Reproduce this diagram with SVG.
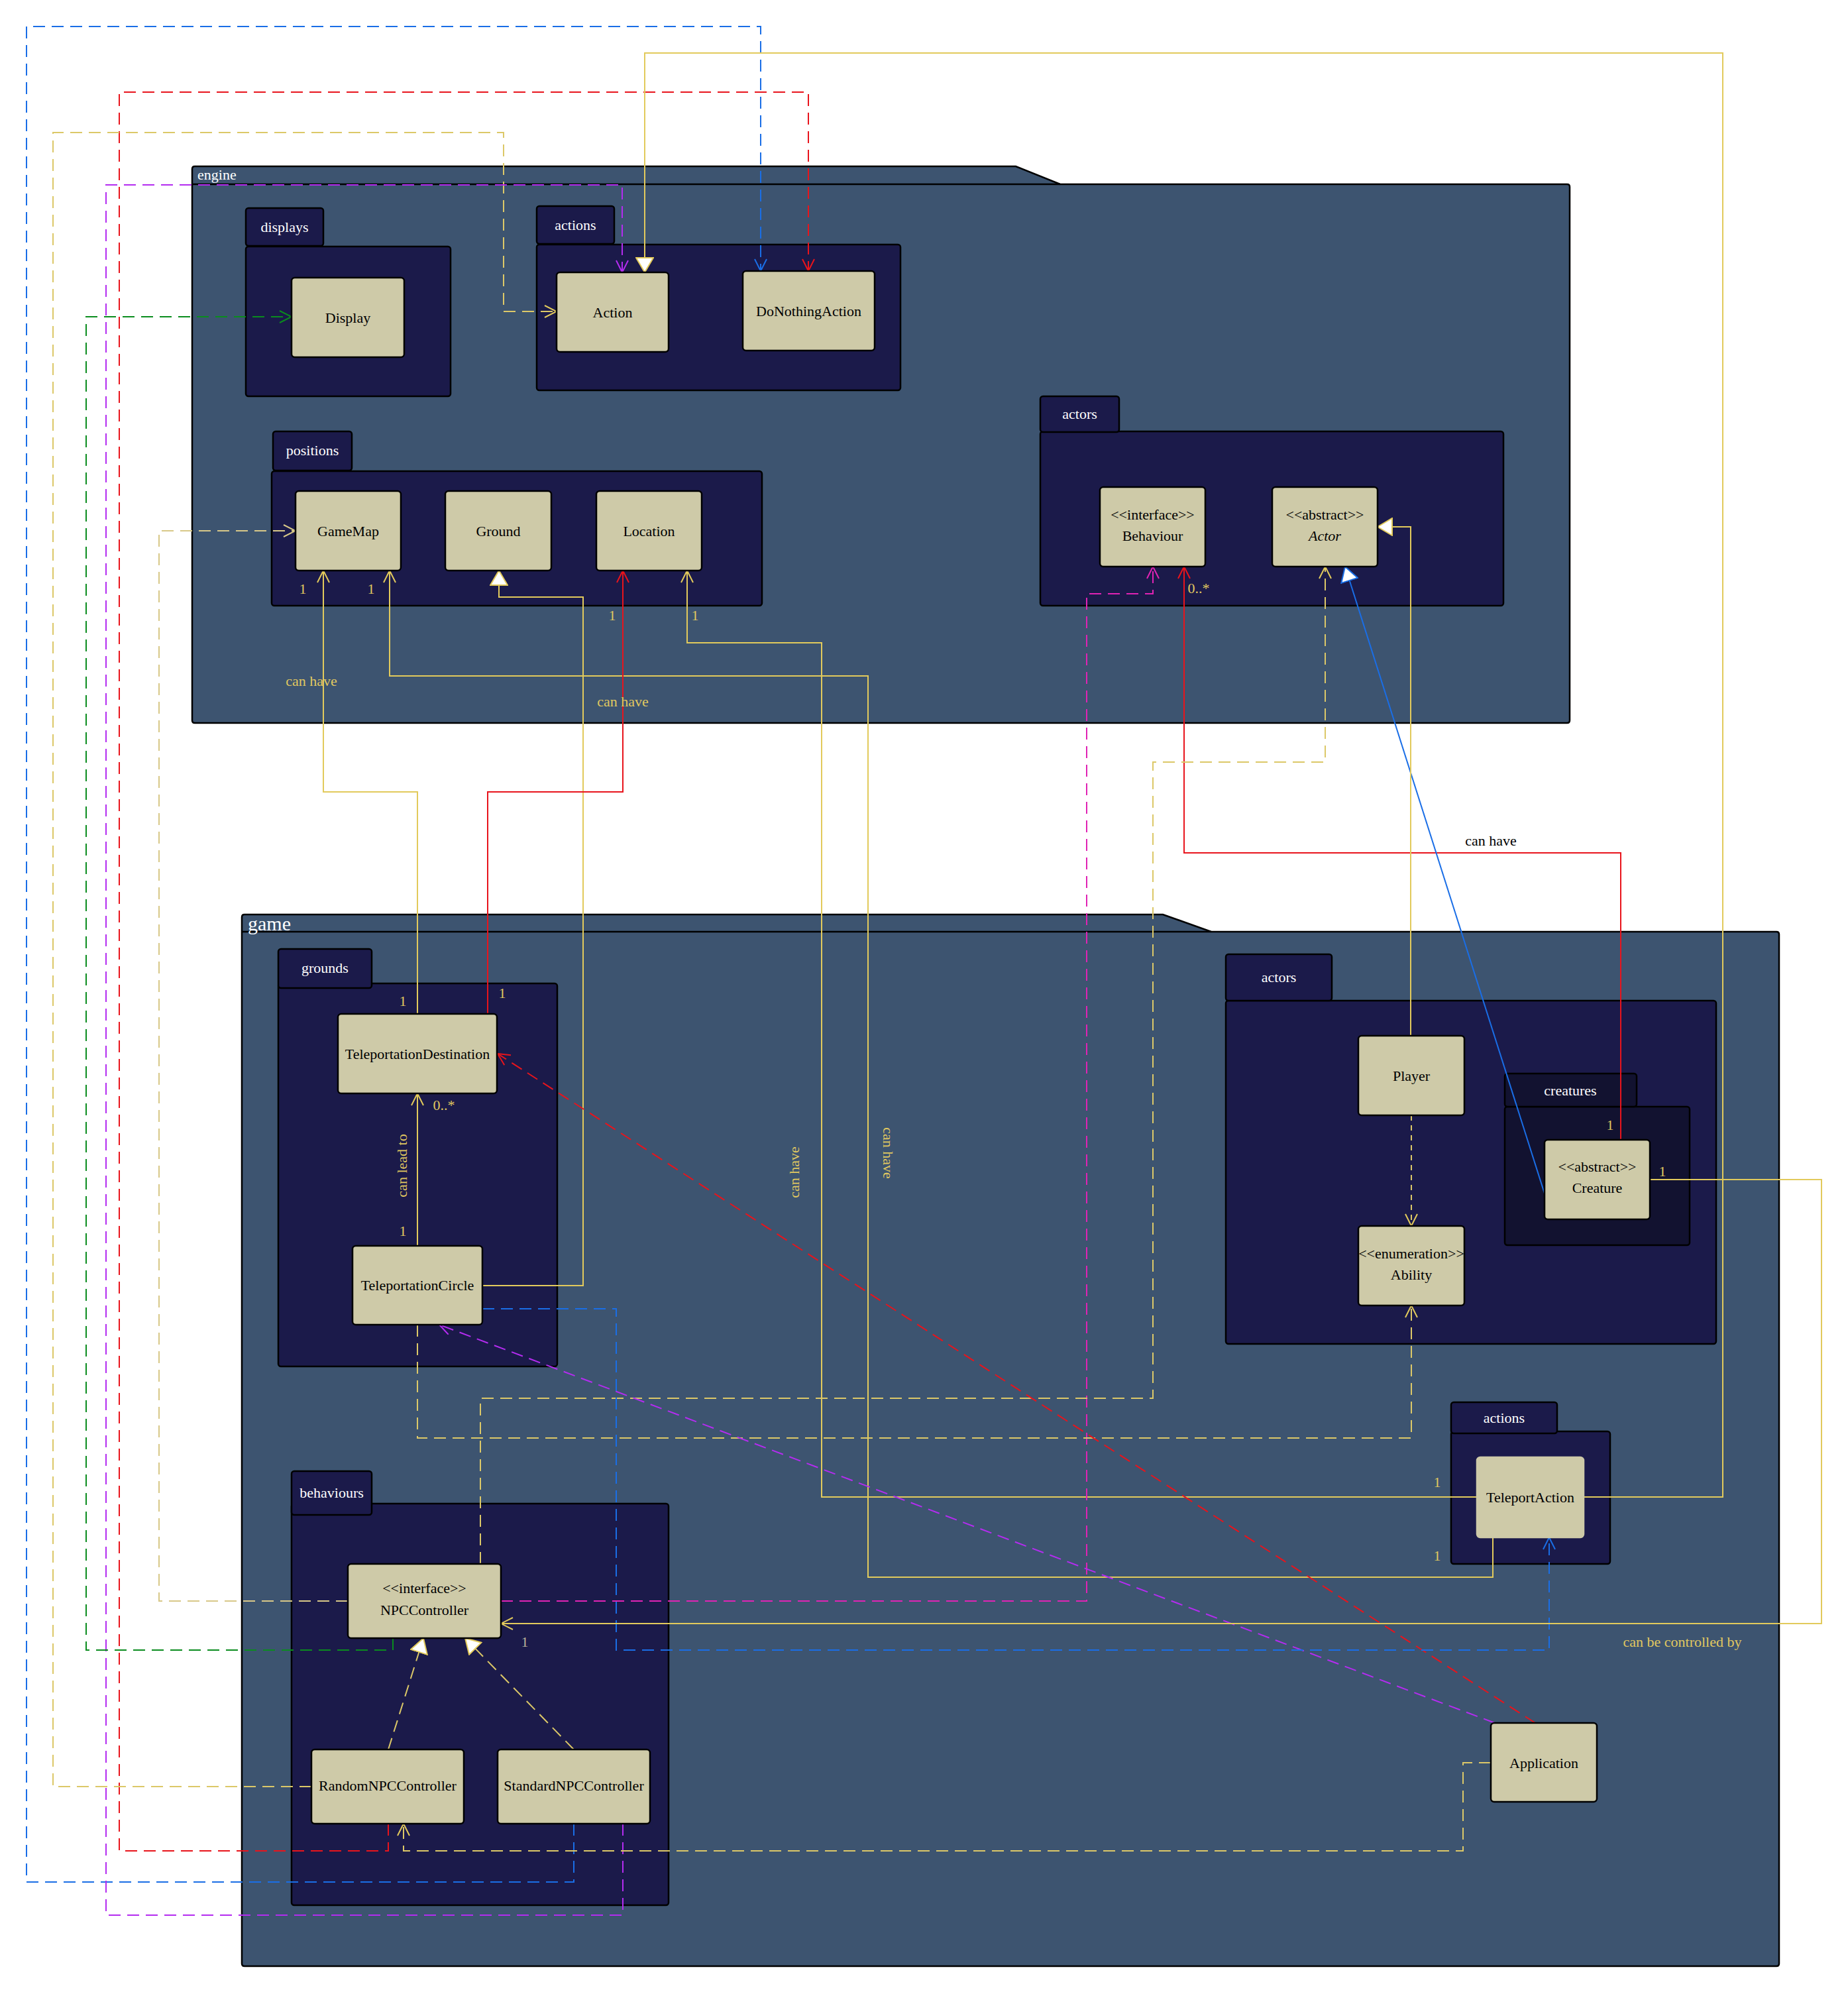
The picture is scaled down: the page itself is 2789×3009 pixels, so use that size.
<svg xmlns="http://www.w3.org/2000/svg" width="2789" height="3009" viewBox="0 0 2789 3009">
<style>
.po{fill:#3d5470;stroke:#000;stroke-width:2.5}
.pk{fill:#1b1a4a;stroke:#000;stroke-width:2.5}
.pd{fill:#121230;stroke:#000;stroke-width:2.5}
.bx{fill:#cecaa8;stroke:#000;stroke-width:2.5}
.t{font-family:"Liberation Serif","Times New Roman",serif;font-size:22px;text-anchor:middle;dominant-baseline:central}
.w{fill:#fff}.k{fill:#000}.y{fill:#e0c860}.g{fill:#b8b49a}
.c{fill:none;stroke-width:2}
.d{stroke-dasharray:18 10}
.yl{stroke:#e2ca5c}.yd{stroke:#dcc868}.ly{stroke:#d8c888}.rd{stroke:#e8141c}.bl{stroke:#1a6ee6}.pu{stroke:#b42cf0}.mg{stroke:#e023b4}.gr{stroke:#0a8c1e}
</style>
<defs>
<marker id="aY" viewBox="0 0 20 20" markerWidth="20" markerHeight="20" refX="19" refY="10" orient="auto" markerUnits="userSpaceOnUse"><path d="M1,1 L19,10 L1,19" fill="none" stroke="#e2ca5c" stroke-width="2"/></marker>
<marker id="aLY" viewBox="0 0 20 20" markerWidth="20" markerHeight="20" refX="19" refY="10" orient="auto" markerUnits="userSpaceOnUse"><path d="M1,1 L19,10 L1,19" fill="none" stroke="#d8c888" stroke-width="2"/></marker>
<marker id="aR" viewBox="0 0 20 20" markerWidth="20" markerHeight="20" refX="19" refY="10" orient="auto" markerUnits="userSpaceOnUse"><path d="M1,1 L19,10 L1,19" fill="none" stroke="#e8141c" stroke-width="2"/></marker>
<marker id="aB" viewBox="0 0 20 20" markerWidth="20" markerHeight="20" refX="19" refY="10" orient="auto" markerUnits="userSpaceOnUse"><path d="M1,1 L19,10 L1,19" fill="none" stroke="#1a6ee6" stroke-width="2"/></marker>
<marker id="aP" viewBox="0 0 20 20" markerWidth="20" markerHeight="20" refX="19" refY="10" orient="auto" markerUnits="userSpaceOnUse"><path d="M1,1 L19,10 L1,19" fill="none" stroke="#b42cf0" stroke-width="2"/></marker>
<marker id="aM" viewBox="0 0 20 20" markerWidth="20" markerHeight="20" refX="19" refY="10" orient="auto" markerUnits="userSpaceOnUse"><path d="M1,1 L19,10 L1,19" fill="none" stroke="#e023b4" stroke-width="2"/></marker>
<marker id="aG" viewBox="0 0 20 20" markerWidth="20" markerHeight="20" refX="19" refY="10" orient="auto" markerUnits="userSpaceOnUse"><path d="M1,1 L19,10 L1,19" fill="none" stroke="#0a8c1e" stroke-width="2"/></marker>
<marker id="tY" viewBox="0 0 24 28" markerWidth="24" markerHeight="28" refX="23" refY="14" orient="auto" markerUnits="userSpaceOnUse"><path d="M1,1 L23,14 L1,27 Z" fill="#fff" stroke="#e2ca5c" stroke-width="2"/></marker>
<marker id="tB" viewBox="0 0 24 28" markerWidth="24" markerHeight="28" refX="23" refY="14" orient="auto" markerUnits="userSpaceOnUse"><path d="M1,1 L23,14 L1,27 Z" fill="#fff" stroke="#1a6ee6" stroke-width="2"/></marker>
</defs>
<rect width="2789" height="3009" fill="#fff"/>
<g id="pkg-engine">
<path class="po" d="M290,278 V255 Q290,251 294,251 H1533 L1600,278 H2365 Q2369,278 2369,282 V1087 Q2369,1091 2365,1091 H294 Q290,1091 290,1087 Z"/>
<line x1="290" y1="278" x2="1600" y2="278" stroke="#000" stroke-width="2.5"/>
<text class="t w" x="298" y="263" style="text-anchor:start">engine</text>
</g>
<g id="pkg-engine-displays">
<rect class="pk" x="371" y="372" width="309" height="226" rx="4"/>
<rect class="pk" x="371" y="314" width="117" height="57" rx="4"/>
<text class="t w" x="429.5" y="342">displays</text>
</g>
<g id="pkg-engine-actions">
<rect class="pk" x="810" y="369" width="549" height="220" rx="4"/>
<rect class="pk" x="810" y="311" width="117" height="57" rx="4"/>
<text class="t w" x="868.5" y="339">actions</text>
</g>
<g id="pkg-engine-positions">
<rect class="pk" x="410" y="711" width="740" height="203" rx="4"/>
<rect class="pk" x="412" y="651" width="119" height="59" rx="4"/>
<text class="t w" x="471.5" y="679">positions</text>
</g>
<g id="pkg-engine-actors">
<rect class="pk" x="1570" y="651" width="699" height="263" rx="4"/>
<rect class="pk" x="1570" y="598" width="119" height="54" rx="4"/>
<text class="t w" x="1629.5" y="624">actors</text>
</g>
<g id="pkg-game">
<path class="po" d="M365,1406 V1384 Q365,1380 369,1380 H1755 L1828,1406 H2681 Q2685,1406 2685,1410 V2963 Q2685,2967 2681,2967 H369 Q365,2967 365,2963 Z"/>
<line x1="365" y1="1406" x2="1828" y2="1406" stroke="#000" stroke-width="2.5"/>
<text class="t w" x="374" y="1393" style="text-anchor:start;font-size:30px">game</text>
</g>
<g id="pkg-game-grounds">
<rect class="pk" x="420" y="1484" width="421" height="578" rx="4"/>
<rect class="pk" x="420" y="1432" width="141" height="59" rx="4"/>
<text class="t w" x="490.5" y="1460">grounds</text>
</g>
<g id="pkg-game-actors">
<rect class="pk" x="1850" y="1510" width="740" height="518" rx="4"/>
<rect class="pk" x="1850" y="1440" width="160" height="70" rx="4"/>
<text class="t w" x="1930" y="1474">actors</text>
</g>
<g id="pkg-game-actors-creatures">
<rect class="pd" x="2271" y="1670" width="279" height="209" rx="4"/>
<rect class="pd" x="2271" y="1620" width="199" height="50" rx="4"/>
<text class="t w" x="2370" y="1645">creatures</text>
</g>
<g id="pkg-game-actions">
<rect class="pk" x="2190" y="2160" width="240" height="200" rx="4"/>
<rect class="pk" x="2190" y="2116" width="160" height="47" rx="4"/>
<text class="t w" x="2270" y="2139">actions</text>
</g>
<g id="pkg-game-behaviours">
<rect class="pk" x="440" y="2269" width="569" height="606" rx="4"/>
<rect class="pk" x="440" y="2220" width="121" height="66" rx="4"/>
<text class="t w" x="500.5" y="2252">behaviours</text>
</g>
<g id="connectors">
<path class="c d bl" d="M866,2752 V2840 H40 V40 H1148 V409" marker-end="url(#aB)"/>
<path class="c d rd" d="M586,2752 V2793 H180 V139 H1220 V409" marker-end="url(#aR)"/>
<path class="c d yd" d="M470,2696 H80 V200 H760 V470 H840" marker-end="url(#aY)"/>
<path class="c d pu" d="M940,2752 V2890 H160 V279 H939 V411" marker-end="url(#aP)"/>
<path class="c yl" d="M2390,2259 H2600 V80 H973 V411" marker-end="url(#tY)"/>
<path class="c d gr" d="M593,2472 V2490 H130 V478 H440" marker-end="url(#aG)"/>
<path class="c d ly" d="M525,2416 H240 V801 H446" marker-end="url(#aLY)"/>
<path class="c yl" d="M630,1530 V1195 H488 V861" marker-end="url(#aY)"/>
<path class="c yl" d="M2253,2320 V2380 H1310 V1020 H588 V861" marker-end="url(#aY)"/>
<path class="c yl" d="M728,1940 H880 V901 H753 V861" marker-end="url(#tY)"/>
<path class="c rd" d="M736,1530 V1195 H940 V861" marker-end="url(#aR)"/>
<path class="c yl" d="M2229,2259 H1240 V970 H1037 V861" marker-end="url(#aY)"/>
<path class="c d mg" d="M756,2416 H1640 V896 H1740 V855" marker-end="url(#aM)"/>
<path class="c rd" d="M2446,1720 V1287 H1787 V855" marker-end="url(#aR)"/>
<path class="c d yd" d="M725,2360 V2110 H1740 V1150 H2000 V855" marker-end="url(#aY)"/>
<path class="c bl" d="M2331,1801 L2030,855" marker-end="url(#tB)"/>
<path class="c yl" d="M2129,1563 V795 H2079" marker-end="url(#tY)"/>
<path class="c yd" d="M2130,1683 V1850" stroke-dasharray="8 7" stroke-width="1.5" marker-end="url(#aY)"/>
<path class="c d yd" d="M630,1999 V2170 H2130 V1970" marker-end="url(#aY)"/>
<path class="c yl" d="M630,1880 V1650" marker-end="url(#aY)"/>
<path class="c d rd" d="M2317,2600 L751,1590" marker-end="url(#aR)"/>
<path class="c d pu" d="M2256,2600 L663,1999" marker-end="url(#aP)"/>
<path class="c d bl" d="M728,1975 H930 V2490 H2338 V2320" marker-end="url(#aB)"/>
<path class="c yl" d="M2490,1780 H2749 V2450 H756" marker-end="url(#aY)"/>
<path class="c d yd" d="M2250,2660 H2208 V2793 H609 V2752" marker-end="url(#aY)"/>
<path class="c d yd" d="M586,2640 L639,2472" marker-end="url(#tY)"/>
<path class="c d yd" d="M866,2640 L702,2472" marker-end="url(#tY)"/>
<text class="t y" x="457" y="888">1</text>
<text class="t y" x="560" y="888">1</text>
<text class="t y" x="924" y="928">1</text>
<text class="t y" x="1049" y="928">1</text>
<text class="t y" x="608" y="1510">1</text>
<text class="t y" x="758" y="1498">1</text>
<text class="t y" x="670" y="1667">0..*</text>
<text class="t y" x="608" y="1857">1</text>
<text class="t y" transform="translate(606,1759) rotate(-90)">can lead to</text>
<text class="t y" x="1809" y="887">0..*</text>
<text class="t y" x="2430" y="1697">1</text>
<text class="t y" x="2509" y="1767">1</text>
<text class="t y" x="2169" y="2236">1</text>
<text class="t y" x="2169" y="2347">1</text>
<text class="t g" x="792" y="2477">1</text>
<text class="t y" x="470" y="1027">can have</text>
<text class="t y" x="940" y="1058">can have</text>
<text class="t y" transform="translate(1198,1769) rotate(-90)">can have</text>
<text class="t y" transform="translate(1340,1740) rotate(90)">can have</text>
<text class="t k" x="2250" y="1268">can have</text>
<text class="t y" x="2539" y="2477">can be controlled by</text>
</g>
<g id="Display"><rect class="bx" x="440" y="419" width="170" height="120" rx="5"/><text class="t k" x="525" y="479">Display</text></g>
<g id="Action"><rect class="bx" x="840" y="411" width="169" height="120" rx="5"/><text class="t k" x="924.5" y="471">Action</text></g>
<g id="DoNothingAction"><rect class="bx" x="1121" y="409" width="199" height="120" rx="5"/><text class="t k" x="1220.5" y="469">DoNothingAction</text></g>
<g id="GameMap"><rect class="bx" x="446" y="741" width="159" height="120" rx="5"/><text class="t k" x="525.5" y="801">GameMap</text></g>
<g id="Ground"><rect class="bx" x="672" y="741" width="160" height="120" rx="5"/><text class="t k" x="752" y="801">Ground</text></g>
<g id="Location"><rect class="bx" x="900" y="741" width="159" height="120" rx="5"/><text class="t k" x="979.5" y="801">Location</text></g>
<g id="Behaviour"><rect class="bx" x="1660" y="735" width="159" height="120" rx="5"/><text class="t k" x="1739.5" y="776">&lt;&lt;interface&gt;&gt;</text><text class="t k" x="1739.5" y="808">Behaviour</text></g>
<g id="Actor"><rect class="bx" x="1920" y="735" width="159" height="120" rx="5"/><text class="t k" x="1999.5" y="776">&lt;&lt;abstract&gt;&gt;</text><text class="t k" x="1999.5" y="808" font-style="italic">Actor</text></g>
<g id="TeleportationDestination"><rect class="bx" x="510" y="1530" width="240" height="120" rx="5"/><text class="t k" x="630" y="1590">TeleportationDestination</text></g>
<g id="TeleportationCircle"><rect class="bx" x="532" y="1880" width="196" height="119" rx="5"/><text class="t k" x="630" y="1939.5">TeleportationCircle</text></g>
<g id="Player"><rect class="bx" x="2050" y="1563" width="160" height="120" rx="5"/><text class="t k" x="2130" y="1623">Player</text></g>
<g id="Ability"><rect class="bx" x="2050" y="1850" width="160" height="120" rx="5"/><text class="t k" x="2130" y="1891">&lt;&lt;enumeration&gt;&gt;</text><text class="t k" x="2130" y="1923">Ability</text></g>
<g id="Creature"><rect class="bx" x="2331" y="1720" width="159" height="120" rx="5"/><text class="t k" x="2410.5" y="1760">&lt;&lt;abstract&gt;&gt;</text><text class="t k" x="2410.5" y="1792">Creature</text></g>
<g id="TeleportAction"><rect class="bx" x="2229" y="2199" width="161" height="121" rx="5" style="stroke:#cecaa8"/><text class="t k" x="2309.5" y="2259">TeleportAction</text></g>
<g id="NPCController"><rect class="bx" x="525" y="2360" width="231" height="112" rx="5"/><text class="t k" x="640.5" y="2396">&lt;&lt;interface&gt;&gt;</text><text class="t k" x="640.5" y="2429">NPCController</text></g>
<g id="RandomNPCController"><rect class="bx" x="470" y="2640" width="230" height="112" rx="5"/><text class="t k" x="585" y="2694">RandomNPCController</text></g>
<g id="StandardNPCController"><rect class="bx" x="751" y="2640" width="230" height="112" rx="5"/><text class="t k" x="866" y="2694">StandardNPCController</text></g>
<g id="Application"><rect class="bx" x="2250" y="2600" width="160" height="119" rx="5"/><text class="t k" x="2330" y="2660">Application</text></g>
</svg>
